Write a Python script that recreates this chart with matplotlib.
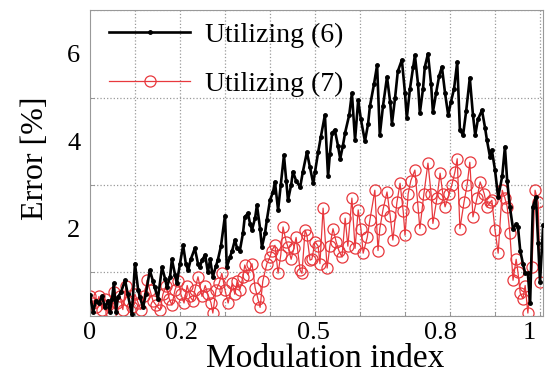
import numpy as np
import matplotlib
matplotlib.use("Agg")
import matplotlib.pyplot as plt
from matplotlib.ticker import FixedLocator, MultipleLocator, NullFormatter

plt.rcParams['font.family'] = ['Liberation Serif', 'DejaVu Serif']

# Error curves
x_eq6 = [0.0, 0.007, 0.013, 0.02, 0.027, 0.033, 0.04, 0.044, 0.049, 0.053, 0.058, 0.062,
         0.069, 0.078, 0.084, 0.093, 0.1, 0.107, 0.111, 0.118, 0.124, 0.133, 0.14, 0.144,
         0.151, 0.16, 0.167, 0.171, 0.178, 0.182, 0.189, 0.193, 0.2, 0.207, 0.213, 0.218,
         0.224, 0.233, 0.24, 0.244, 0.249, 0.256, 0.262, 0.267, 0.273, 0.28, 0.284, 0.291,
         0.3, 0.304, 0.311, 0.316, 0.322, 0.327, 0.333, 0.34, 0.344, 0.351, 0.356, 0.36,
         0.367, 0.371, 0.378, 0.382, 0.389, 0.393, 0.4, 0.407, 0.411, 0.418, 0.424, 0.431,
         0.436, 0.44, 0.447, 0.451, 0.458, 0.467, 0.473, 0.482, 0.489, 0.496, 0.5, 0.507,
         0.513, 0.522, 0.529, 0.533, 0.538, 0.544, 0.551, 0.556, 0.562, 0.567, 0.576, 0.582,
         0.589, 0.596, 0.602, 0.611, 0.618, 0.622, 0.631, 0.638, 0.644, 0.651, 0.66, 0.667,
         0.671, 0.678, 0.684, 0.693, 0.7, 0.704, 0.711, 0.718, 0.722, 0.729, 0.733, 0.74,
         0.744, 0.751, 0.758, 0.762, 0.769, 0.776, 0.782, 0.789, 0.796, 0.802, 0.809, 0.816,
         0.822, 0.829, 0.836, 0.844, 0.851, 0.856, 0.862, 0.871, 0.878, 0.882, 0.889, 0.893,
         0.9, 0.907, 0.916, 0.922, 0.927, 0.933, 0.94, 0.947, 0.951, 0.956, 0.962, 0.967,
         0.973, 0.978, 0.984, 0.991, 0.996, 1.0, 1.007]
err_eq6 = [0.48, 0.1, 0.35, 0.3, 0.45, 0.2, 0.35, 0.1, 0.4, 0.75, 0.1, 0.43,
           0.55, 0.82, 0.5, 0.05, 1.2, 0.6, 0.43, 0.2, 0.5, 1.05, 0.8, 0.66,
           0.4, 1.12, 0.85, 0.66, 0.9, 1.3, 0.95, 0.75, 1.2, 1.62, 1.2, 1.05,
           1.3, 1.55, 1.2, 1.12, 1.28, 1.4, 1.0, 1.3, 0.9, 1.15, 1.28, 1.6,
           2.3, 1.12, 1.35, 1.5, 1.74, 1.55, 1.5, 1.9, 2.27, 2.35, 2.1, 1.97,
           2.25, 2.54, 2.0, 1.58, 1.9, 2.2, 2.65, 2.85, 3.07, 2.43, 3.0, 3.68,
           3.1, 2.65, 3.0, 3.3, 3.1, 2.95, 3.3, 3.75, 3.4, 3.04, 3.3, 3.75,
           4.1, 4.6, 3.2, 3.7, 4.19, 4.26, 3.9, 3.6, 3.9, 4.2, 4.6, 5.1,
           4.03, 4.94, 4.5, 4.0, 4.4, 4.8, 5.3, 5.74, 4.14, 4.8, 5.47, 4.9,
           4.4, 5.0, 5.6, 5.86, 5.1, 4.53, 5.2, 5.7, 5.97, 5.3, 4.65, 5.2,
           5.7, 6.0, 5.3, 4.67, 5.1, 5.5, 5.7, 5.1, 4.6, 4.9, 5.2, 5.81,
           4.26, 4.14, 4.7, 5.45, 4.6, 4.14, 4.5, 4.71, 4.3, 4.03, 3.64, 3.8,
           3.34, 2.72, 3.2, 3.87, 3.1, 2.5, 2.0, 2.1, 2.04, 1.5, 1.2, 0.98,
           0.98, 0.3, 2.5, 2.72, 1.67, 0.78, 2.08]

x_eq7 = [0.0, 0.007, 0.013, 0.02, 0.027, 0.033, 0.04, 0.047, 0.053, 0.06, 0.067, 0.073,
         0.08, 0.087, 0.093, 0.1, 0.107, 0.113, 0.12, 0.127, 0.133, 0.14, 0.147, 0.156,
         0.162, 0.169, 0.176, 0.182, 0.189, 0.196, 0.202, 0.209, 0.216, 0.222, 0.229, 0.233,
         0.24, 0.249, 0.256, 0.262, 0.269, 0.273, 0.28, 0.287, 0.293, 0.3, 0.307, 0.316,
         0.322, 0.327, 0.333, 0.34, 0.344, 0.351, 0.36, 0.367, 0.373, 0.378, 0.384, 0.393,
         0.4, 0.404, 0.411, 0.418, 0.424, 0.429, 0.436, 0.44, 0.447, 0.453, 0.458, 0.467,
         0.471, 0.478, 0.482, 0.489, 0.493, 0.5, 0.507, 0.511, 0.518, 0.527, 0.533, 0.54,
         0.547, 0.553, 0.56, 0.567, 0.573, 0.582, 0.589, 0.596, 0.602, 0.607, 0.616, 0.622,
         0.633, 0.64, 0.644, 0.651, 0.66, 0.667, 0.673, 0.682, 0.689, 0.696, 0.7, 0.707,
         0.713, 0.722, 0.729, 0.733, 0.742, 0.751, 0.758, 0.762, 0.771, 0.778, 0.784, 0.789,
         0.798, 0.804, 0.811, 0.816, 0.822, 0.831, 0.838, 0.844, 0.851, 0.86, 0.867, 0.876,
         0.882, 0.889, 0.893, 0.9, 0.907, 0.916, 0.922, 0.927, 0.933, 0.94, 0.947, 0.951,
         0.956, 0.962, 0.967, 0.973, 0.982, 0.989, 0.996, 1.0]
err_eq7 = [0.45, 0.3, 0.2, 0.45, 0.15, 0.4, 0.25, 0.1, 0.55, 0.3, 0.45, 0.15,
           0.7, 0.35, 0.2, 0.5, 0.3, 0.15, 0.45, 0.82, 0.6, 0.35, 0.25, 0.14,
           0.5, 0.7, 0.4, 0.25, 0.6, 0.8, 0.5, 0.3, 0.7, 0.45, 0.35, 0.6,
           0.9, 0.45, 0.7, 0.5, 0.3, 0.07, 0.6, 0.75, 0.98, 0.6, 0.3, 0.75,
           0.5, 0.8, 0.6, 0.9, 1.17, 0.95, 1.2, 0.65, 0.4, 0.2, 0.8, 1.2,
           1.35, 1.5, 1.62, 0.98, 1.4, 2.04, 1.7, 1.58, 1.3, 1.55, 1.8, 1.05,
           0.98, 1.97, 1.85, 1.28, 1.3, 1.7, 1.6, 1.2, 2.47, 1.1, 1.6, 2.0,
           1.7, 1.5, 1.35, 2.24, 1.6, 2.7, 1.55, 2.43, 2.0, 1.44, 1.8, 2.2,
           2.88, 1.5, 2.0, 2.43, 2.84, 2.3, 1.74, 2.6, 3.04, 2.4, 1.85, 2.8,
           3.1, 3.34, 2.5, 2.0, 2.8, 3.5, 2.8, 2.12, 2.7, 3.27, 2.8, 2.5,
           2.8, 3.0, 3.3, 3.6, 2.0, 2.6, 3.0, 3.52, 2.27, 2.7, 3.07, 2.8,
           2.5, 2.6, 2.65, 1.97, 1.44, 2.88, 2.7, 2.5, 1.9, 0.82, 1.3, 1.0,
           0.53, 0.4, 0.7, 0.07, 1.12, 2.88, 2.6, 0.78]

# where the tick labels sit in the original (slightly off the grid)
label_pos = [0.0, 0.204, 0.496, 0.778, 0.976]
label_txt = ['0', '0.2', '0.5', '0.8', '1']

fig = plt.figure(figsize=(5.52, 3.75), dpi=100)
ax = fig.add_axes([0.163, 0.157, 0.821, 0.816])

ax.plot(x_eq6, err_eq6, color='k', lw=1.9, marker='.', ms=5, label='Utilizing (6)', zorder=3)
ax.plot(x_eq7, err_eq7, color='#e8383d', lw=0.9, marker='o', ms=8, mfc='none',
        mew=0.9, label='Utilizing (7)', zorder=2)

ax.set_xlim(0, 1.007)
ax.set_ylim(0, 7)

ax.xaxis.set_major_locator(FixedLocator(label_pos))
ax.set_xticklabels(label_txt)
ax.xaxis.set_minor_locator(MultipleLocator(0.1))
ax.yaxis.set_major_locator(FixedLocator([2, 4, 6]))
ax.yaxis.set_minor_locator(MultipleLocator(1))
ax.tick_params(axis='x', which='major', length=0, labelsize=19, pad=4)
ax.tick_params(axis='y', which='major', length=0, labelsize=19, pad=7)
ax.tick_params(which='minor', direction='in', length=3, color='#888888')

ax.grid(which='minor', linestyle=':', color='#999999', lw=0.9)
for s in ax.spines.values():
    s.set_color('#999999')

ax.set_xlabel('Modulation index', fontsize=24)
ax.xaxis.set_label_coords(0.519, -0.09)
ax.set_ylabel('Error [%]', fontsize=23)
ax.yaxis.set_label_coords(-0.088, 0.516)

ax.legend(loc='upper left', bbox_to_anchor=(0.015, 1.0), frameon=False, fontsize=20,
          handlelength=2.9, numpoints=1, labelspacing=0.85, borderaxespad=0.05,
          handletextpad=0.55)

fig.savefig('out.png', dpi=100)
